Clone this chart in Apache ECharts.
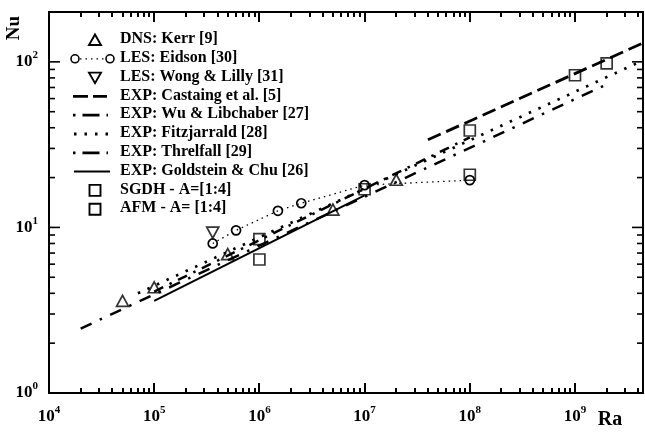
<!DOCTYPE html>
<html>
<head>
<meta charset="utf-8">
<script src="https://cdn.jsdelivr.net/npm/echarts@6/dist/echarts.min.js"></script>
</head>
<body style="margin:0;background:#fff">
<div id="chart" style="width:645px;height:432px"></div>
<script>
// Axis ranges (log scales)
const xMin = 1e4, xMax = 4.43e9;
const yMin = 1, yMax = 200;

// Major tick positions and minor tick layout
const majorX = [1e5, 1e6, 1e7, 1e8, 1e9];
const majorY = [10, 100];
const xDecades = [4, 5, 6, 7, 8, 9];
const yDecades = [0, 1, 2];
const minorMultipliers = [2, 3, 4, 5, 6, 7, 8, 9];

// Series data: [Ra, Nu]
const kerrDNS      = [[5e4, 3.6], [1e5, 4.35], [5e5, 6.9], [5e6, 12.8], [2e7, 19.4]];
const eidsonLES    = [[3.6e5, 8.0], [6e5, 9.6], [1.5e6, 12.6], [2.5e6, 14.0], [1e7, 18.0], [1e8, 19.3]];
const wongLillyLES = [[3.6e5, 9.3]];
const castaingEXP  = [[4e7, 33.8], [4.43e9, 130]];
const wuLibchaber  = [[1e5, 4.1], [1e8, 35]];
const fitzjarrald  = [[7e4, 4.0], [4.43e9, 102]];
const threlfall    = [[2e4, 2.45], [1.9e9, 72]];
const goldsteinChu = [[1e5, 3.6], [1e7, 15.6]];
const sgdh         = [[1e6, 8.5], [1e7, 17], [1e8, 38.5], [1e9, 83], [2e9, 98]];
const afm          = [[1e6, 6.4], [1e8, 20.8]];

// Legend entries
const legendNames = [
  'DNS: Kerr [9]',
  'LES: Eidson [30]',
  'LES: Wong & Lilly [31]',
  'EXP: Castaing et al. [5]',
  'EXP: Wu & Libchaber [27]',
  'EXP: Fitzjarrald [28]',
  'EXP: Threlfall [29]',
  'EXP: Goldstein & Chu [26]',
  'SGDH - A=[1:4]',
  'AFM - A= [1:4]'
];

const FONT = '"Liberation Serif", "Times New Roman", serif';
const INK = '#000';

const minorXValues = [];
xDecades.forEach(d => minorMultipliers.forEach(m => {
  const v = m * Math.pow(10, d);
  if (v < xMax) minorXValues.push(v);
}));
const minorYValues = [];
yDecades.forEach(d => minorMultipliers.forEach(m => {
  const v = m * Math.pow(10, d);
  if (v < yMax) minorYValues.push(v);
}));

function powLabel(v) {
  const e = Math.round(Math.log10(v));
  if (Math.abs(Math.log10(v) - e) > 1e-6) return '';
  return '{b|10}{s|' + e + '}';
}
function makeRich() {
  return {
    b: { fontFamily: FONT, fontWeight: 'bold', fontSize: 17, lineHeight: 24, color: INK },
    s: { fontFamily: FONT, fontWeight: 'bold', fontSize: 11, lineHeight: 11, color: INK, verticalAlign: 'top' }
  };
}

function hollow() {
  return { color: 'rgba(0,0,0,0)', borderColor: INK, borderWidth: 1.7 };
}

function lineSeries(name, data, width, dash) {
  return {
    name, type: 'line', data, symbol: 'none', silent: true,
    lineStyle: { color: INK, width, type: dash }, z: 2
  };
}

function stroke(w, dash) {
  const s = { stroke: INK, lineWidth: w, fill: 'none' };
  if (dash) s.lineDash = dash;
  return s;
}

// Legend drawn as graphic elements
const legendX = 120, legendY0 = 40, legendStep = 18.8;
const ly = i => legendY0 + i * legendStep;
const graphics = [];
legendNames.forEach((name, i) => {
  graphics.push({
    type: 'text', left: legendX, top: ly(i) - 9,
    style: { text: name, font: 'bold 16px ' + FONT, fill: INK }
  });
});
graphics.push({ type: 'polygon', shape: { points: [[95, ly(0) - 5.5], [101, ly(0) + 5], [89, ly(0) + 5]] }, style: stroke(1.9) });
graphics.push({ type: 'line', shape: { x1: 80, y1: ly(1), x2: 106, y2: ly(1) }, style: stroke(1.3, [1.5, 4]) });
graphics.push({ type: 'circle', shape: { cx: 75, cy: ly(1), r: 4 }, style: stroke(1.6) });
graphics.push({ type: 'circle', shape: { cx: 110, cy: ly(1), r: 4 }, style: stroke(1.6) });
graphics.push({ type: 'polygon', shape: { points: [[89, ly(2) - 5], [101, ly(2) - 5], [95, ly(2) + 5.5]] }, style: stroke(1.9) });
graphics.push({ type: 'line', shape: { x1: 73, y1: ly(3), x2: 107, y2: ly(3) }, style: stroke(2.8, [15, 5]) });
graphics.push({ type: 'line', shape: { x1: 73, y1: ly(4), x2: 108, y2: ly(4) }, style: stroke(2.8, [2.5, 7, 17, 7]) });
graphics.push({ type: 'line', shape: { x1: 74, y1: ly(5), x2: 108, y2: ly(5) }, style: stroke(2.8, [2.5, 8]) });
graphics.push({ type: 'line', shape: { x1: 73, y1: ly(6), x2: 108, y2: ly(6) }, style: stroke(2.8, [2.5, 7, 17, 7]) });
graphics.push({ type: 'line', shape: { x1: 74, y1: ly(7), x2: 110, y2: ly(7) }, style: stroke(2) });
graphics.push({ type: 'rect', shape: { x: 89.5, y: ly(8) - 5.5, width: 11, height: 11 }, style: stroke(1.9) });
graphics.push({ type: 'rect', shape: { x: 89.5, y: ly(9) - 5.5, width: 11, height: 11 }, style: stroke(1.9) });
// axis titles
graphics.push({ type: 'text', x: 14, y: 28, rotation: Math.PI / 2, style: { text: 'Nu', font: 'bold 19px ' + FONT, fill: INK, align: 'center', verticalAlign: 'middle' } });
graphics.push({ type: 'text', x: 610, y: 420, style: { text: 'Ra', font: 'bold 20px ' + FONT, fill: INK, align: 'center', verticalAlign: 'middle' } });

function logAxis(position, min, max, label) {
  return {
    type: 'log', logBase: 10, position, min, max,
    axisLine: { show: true, onZero: false, lineStyle: { color: INK, width: 2 } },
    axisTick: { show: false },
    axisLabel: label ? { show: true, margin: label, formatter: powLabel, rich: makeRich(), showMaxLabel: false } : { show: false },
    splitLine: { show: false },
    minorTick: { show: false },
    minorSplitLine: { show: false }
  };
}

const option = {
  animation: false,
  backgroundColor: '#fff',
  grid: { left: 49, right: 2, top: 12, bottom: 39, containLabel: false },
  xAxis: [logAxis('bottom', xMin, xMax, 12), logAxis('top', xMin, xMax, 0)],
  yAxis: [logAxis('left', yMin, yMax, 11), logAxis('right', yMin, yMax, 0)],
  series: [
    lineSeries(legendNames[3], castaingEXP, 2.8, [14, 6]),
    lineSeries(legendNames[4], wuLibchaber, 2.5, [10, 7, 2.5, 7]),
    lineSeries(legendNames[5], fitzjarrald, 2.7, [2.5, 8]),
    lineSeries(legendNames[6], threlfall, 2.5, [12, 9, 2.5, 9]),
    lineSeries(legendNames[7], goldsteinChu, 2, 'solid'),
    {
      name: legendNames[1], type: 'line', data: eidsonLES,
      symbol: 'circle', symbolSize: 9, showSymbol: true, silent: true,
      lineStyle: { color: INK, width: 1.3, type: [1.5, 4] },
      itemStyle: hollow(), z: 3
    },
    {
      name: legendNames[0], type: 'scatter', data: kerrDNS, silent: true,
      symbol: 'triangle', symbolSize: [12, 11], itemStyle: hollow(), z: 4
    },
    {
      name: legendNames[2], type: 'scatter', data: wongLillyLES, silent: true,
      symbol: 'triangle', symbolRotate: 180, symbolSize: [12, 11], itemStyle: hollow(), z: 4
    },
    {
      name: legendNames[8], type: 'scatter', data: sgdh, silent: true,
      symbol: 'rect', symbolSize: 11, itemStyle: hollow(), z: 4
    },
    {
      name: legendNames[9], type: 'scatter', data: afm, silent: true,
      symbol: 'rect', symbolSize: 11, itemStyle: hollow(), z: 4
    }
  ]
};

const chart = echarts.init(document.getElementById('chart'));
chart.setOption(option);

// Inward tick marks on all four sides, placed through the axis scales.
// Vertical ticks are drawn as filled 2px bars on whole pixels.
const toPx = p => chart.convertToPixel({ gridIndex: 0 }, p);
const barStyle = () => ({ fill: INK, stroke: 'none' });
function xTicks(values, len) {
  values.forEach(v => {
    const b = toPx([v, yMin]);
    const t = toPx([v, yMax]);
    const x = Math.round(b[0]) - 1;
    graphics.push({ type: 'rect', z: 100, shape: { x: x, y: Math.round(b[1]) - len, width: 2, height: len }, style: barStyle() });
    graphics.push({ type: 'rect', z: 100, shape: { x: x, y: Math.round(t[1]), width: 2, height: len }, style: barStyle() });
  });
}
function yTicks(values, len) {
  values.forEach(v => {
    const l = toPx([xMin, v]);
    const r = toPx([xMax, v]);
    graphics.push({ type: 'line', z: 5, shape: { x1: l[0], y1: l[1], x2: l[0] + len, y2: l[1] }, style: stroke(1.6) });
    graphics.push({ type: 'line', z: 5, shape: { x1: r[0], y1: r[1], x2: r[0] - len, y2: r[1] }, style: stroke(1.6) });
  });
}
xTicks(majorX, 10);
xTicks(minorXValues, 5);
yTicks(majorY, 11);
yTicks(minorYValues, 6);

chart.setOption({ graphic: graphics });
</script>
</body>
</html>
